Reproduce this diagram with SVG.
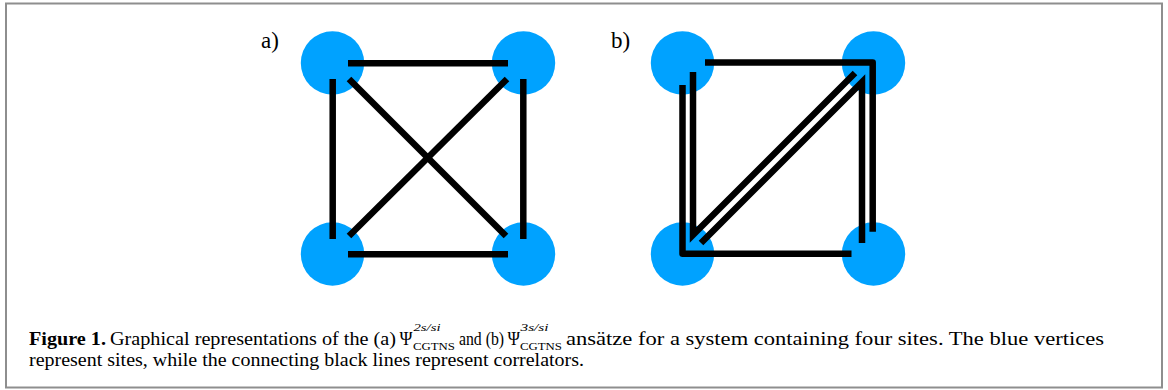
<svg xmlns="http://www.w3.org/2000/svg" width="1168" height="390" viewBox="0 0 1168 390">
<style>
.site{fill:#00A2FF}
.cor{fill:none;stroke:#000;stroke-width:6.5;stroke-linecap:butt}
.rj{stroke-linejoin:round}
.mj{stroke-linejoin:miter;stroke-miterlimit:4}
.lbl{font-family:"Liberation Serif","Times New Roman",serif;font-size:23px;fill:#000}
.cap{font-family:"Liberation Serif","Times New Roman",serif;font-size:19px;fill:#000}
.sm{font-size:11px}
</style>
<rect x="6" y="3.5" width="1156" height="384" fill="#fff" stroke="#8e8e8e" stroke-width="2"/>
<g id="panel-a">
  <text class="lbl" x="261" y="48">a)</text>
  <g id="a-site-tl"><circle class="site" cx="332.5" cy="63" r="31.7"/></g>
  <g id="a-site-tr"><circle class="site" cx="523.5" cy="63" r="31.7"/></g>
  <g id="a-site-bl"><circle class="site" cx="332.5" cy="254" r="31.7"/></g>
  <g id="a-site-br"><circle class="site" cx="523.5" cy="254" r="31.7"/></g>
  <g id="a-connectors">
    <path class="cor" d="M348,63.3 H508"/>
    <path class="cor" d="M348,254.3 H508"/>
    <path class="cor" d="M332.7,79 V239"/>
    <path class="cor" d="M523.3,79 V239"/>
    <path class="cor" d="M349,79 L506,236"/>
    <path class="cor" d="M507,79 L349,236"/>
  </g>
</g>
<g id="panel-b">
  <text class="lbl" x="611" y="48">b)</text>
  <g id="b-site-tl"><circle class="site" cx="682.5" cy="63" r="31.7"/></g>
  <g id="b-site-tr"><circle class="site" cx="873.5" cy="63" r="31.7"/></g>
  <g id="b-site-bl"><circle class="site" cx="682.5" cy="254" r="31.7"/></g>
  <g id="b-site-br"><circle class="site" cx="873.5" cy="254" r="31.7"/></g>
  <g id="b-connectors">
    <path class="cor rj" d="M705,62.6 H872.7 V231.7"/>
    <path class="cor rj" d="M682.5,85 V253.8 H851.5"/>
    <path class="cor mj" d="M693,72 V235 L855,73"/>
    <path class="cor mj" d="M701,243 L862,82 V243"/>
  </g>
</g>
<g id="caption">
  <text class="cap" y="345"><tspan x="29" font-weight="bold" textLength="77" lengthAdjust="spacingAndGlyphs">Figure 1.</tspan><tspan x="110" textLength="286" lengthAdjust="spacingAndGlyphs">Graphical representations of the (a)</tspan><tspan x="399.5" textLength="13" lengthAdjust="spacingAndGlyphs">Ψ</tspan><tspan class="sm" x="413.5" y="331" font-style="italic" textLength="27" lengthAdjust="spacingAndGlyphs">2s/si</tspan><tspan class="sm" x="413" y="350" textLength="42" lengthAdjust="spacingAndGlyphs">CGTNS</tspan><tspan x="459" y="345" textLength="45" lengthAdjust="spacingAndGlyphs">and (b)</tspan><tspan x="507.5" textLength="12.5" lengthAdjust="spacingAndGlyphs">Ψ</tspan><tspan class="sm" x="520.5" y="331" font-style="italic" textLength="28" lengthAdjust="spacingAndGlyphs">3s/si</tspan><tspan class="sm" x="520" y="350" textLength="42" lengthAdjust="spacingAndGlyphs">CGTNS</tspan><tspan x="566" y="345" textLength="538" lengthAdjust="spacingAndGlyphs">ansätze for a system containing four sites. The blue vertices</tspan></text>
  <text class="cap" x="29" y="366" textLength="555" lengthAdjust="spacingAndGlyphs">represent sites, while the connecting black lines represent correlators.</text>
</g>
</svg>
